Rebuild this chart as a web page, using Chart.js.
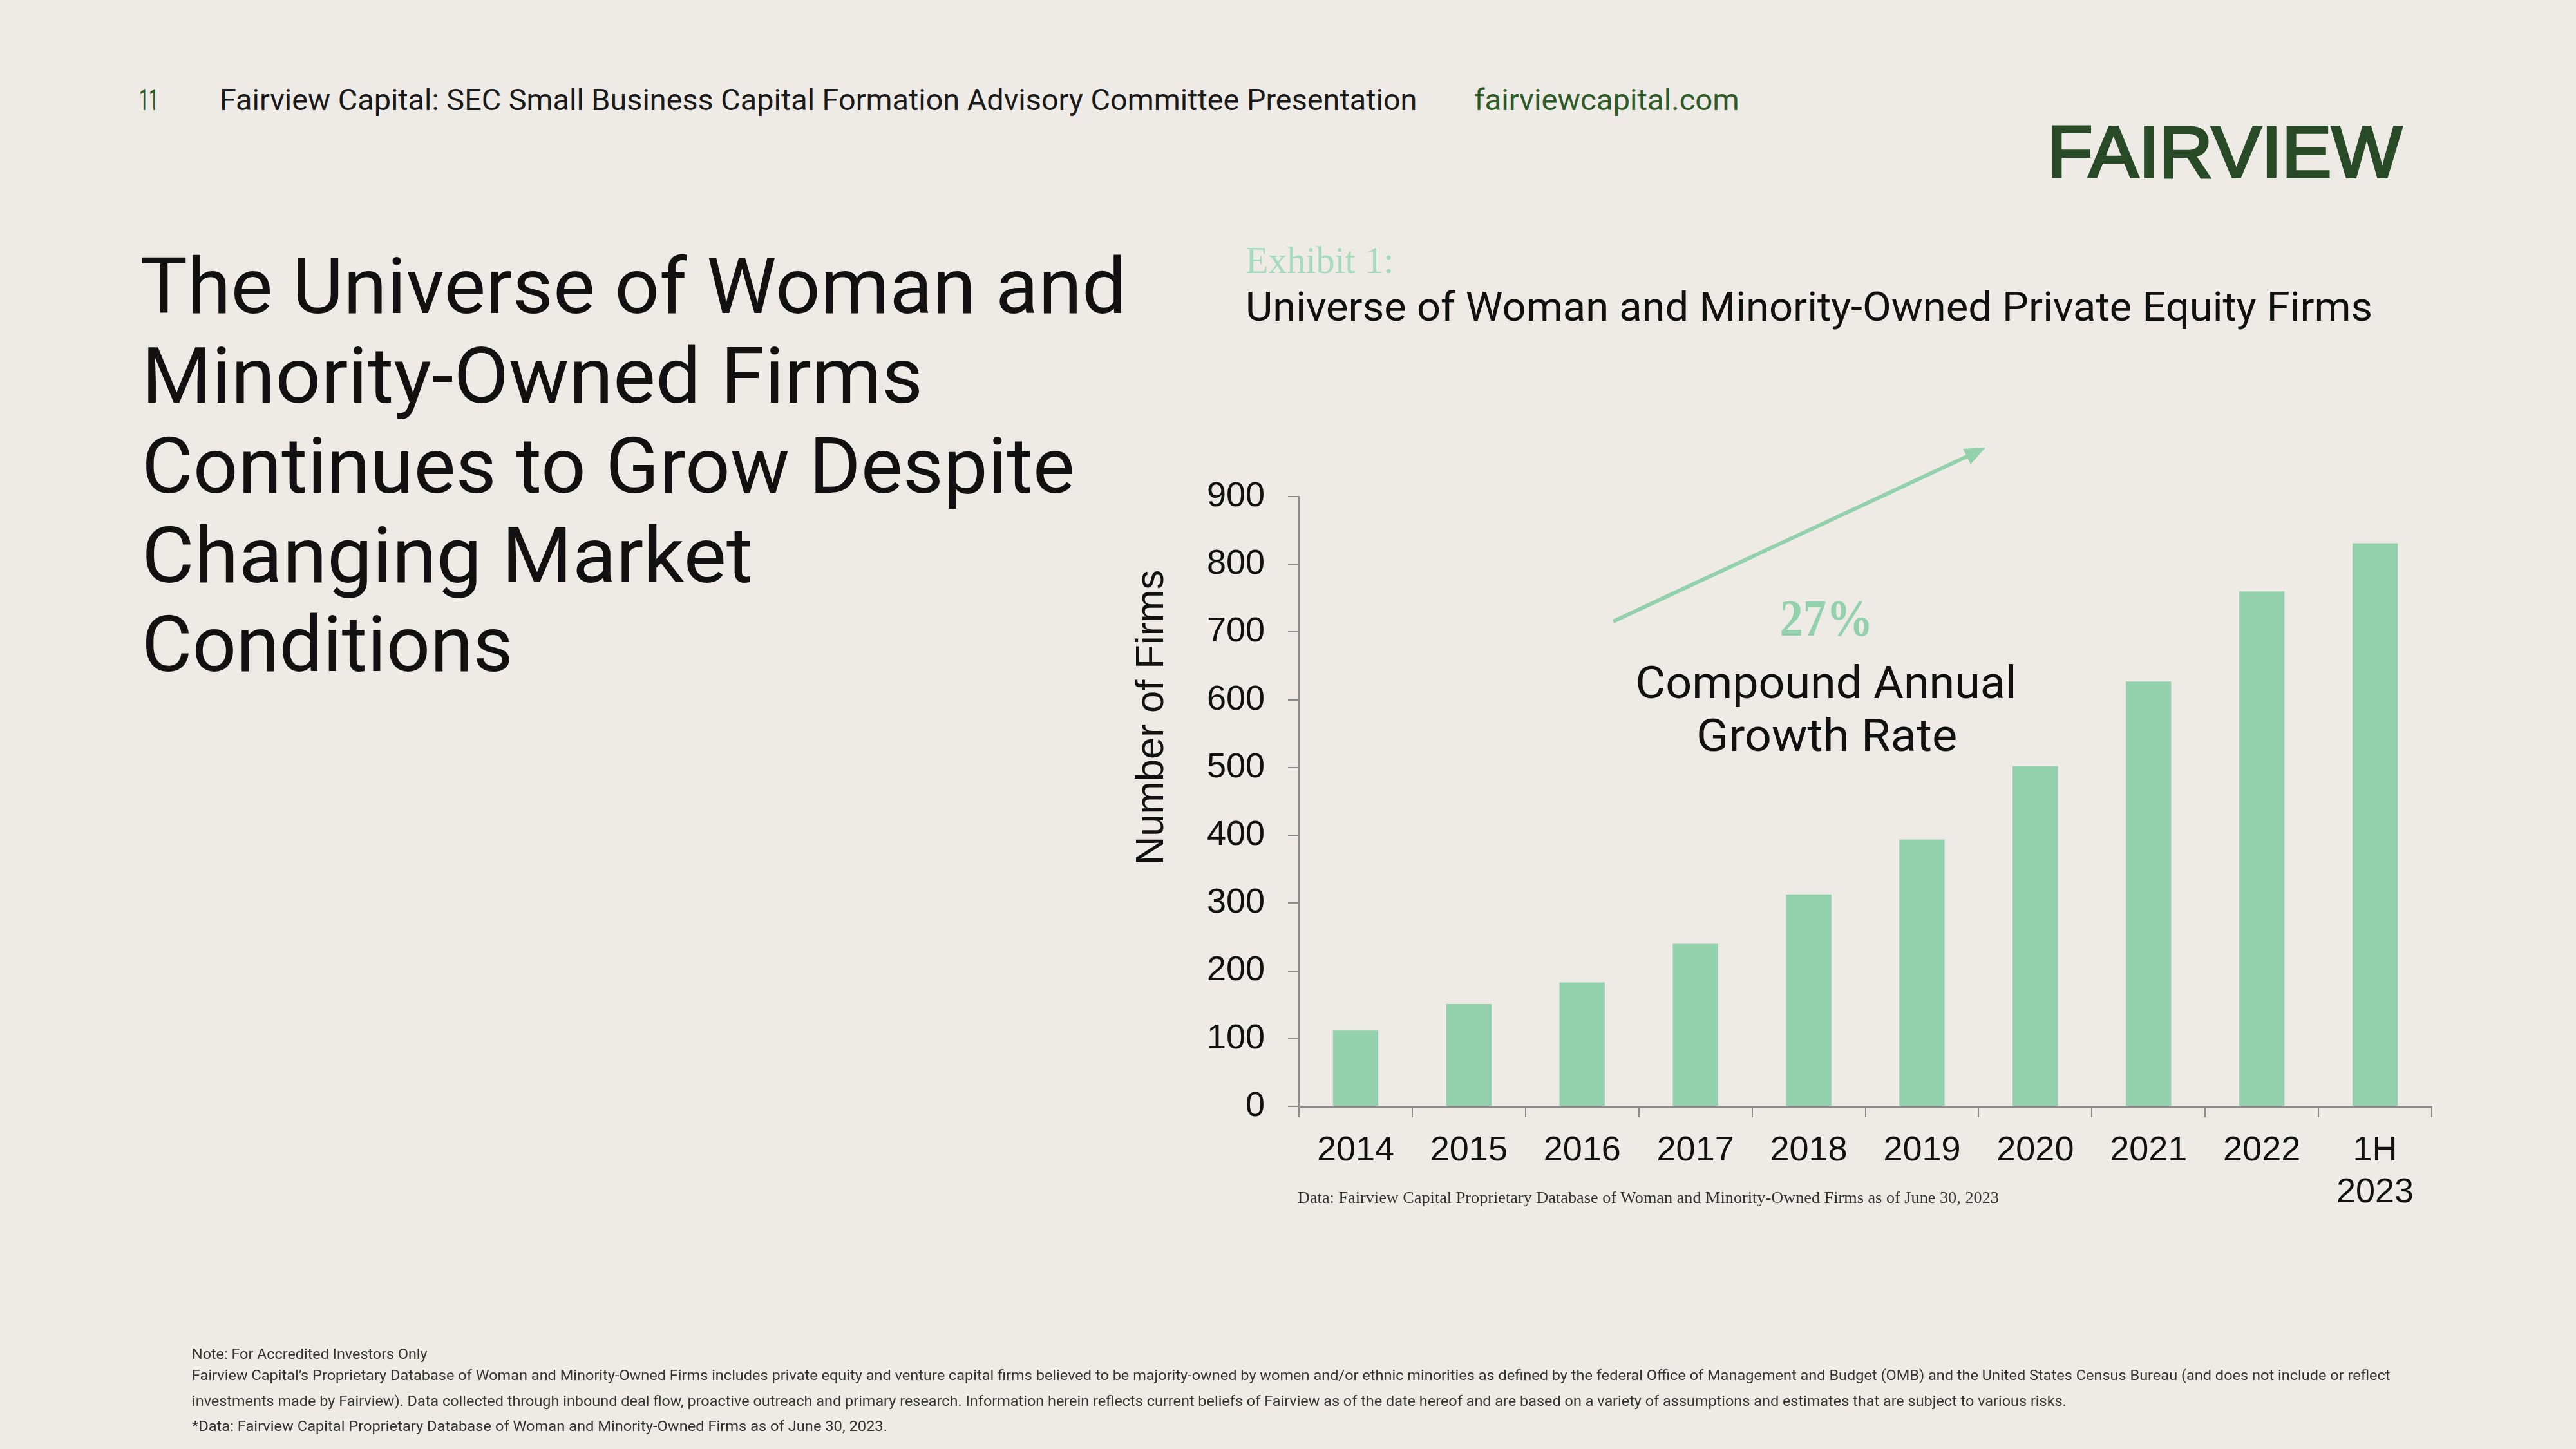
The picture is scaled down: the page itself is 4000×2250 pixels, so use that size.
<!DOCTYPE html>
<html>
<head>
<meta charset="utf-8">
<script src="https://cdn.jsdelivr.net/npm/chart.js@4.4.1/dist/chart.umd.min.js"></script>
<style>
  html, body { margin: 0; padding: 0; background: #eeebe6; }
  #page { position: relative; width: 4000px; height: 2250px; overflow: hidden; background: #eeebe6; }
  .t { position: absolute; white-space: nowrap; line-height: 1; font-family: Roboto, sans-serif; color: #111; }
  .serif { font-family: "Liberation Serif", serif; }
  #chartBox { position: absolute; left: 1700px; top: 700px; width: 2150px; height: 1250px; }
  #arrow { position: absolute; left: 0; top: 0; }
</style>
</head>
<body>
<div id="page">
  <!-- header -->
  <div class="t" data-x="216" data-b="171" data-w="30" style="font-size:46px;color:#2f5a2a">11</div>
  <div class="t" data-x="341" data-b="171" data-w="1859" style="font-size:46px;color:#1a1a1a">Fairview Capital: SEC Small Business Capital Formation Advisory Committee Presentation</div>
  <div class="t" data-x="2289" data-b="171" data-w="412" style="font-size:46px;color:#2d5a27">fairviewcapital.com</div>
  <div class="t" data-x="3179" data-b="275" data-w="551" style="font-size:114px;font-family:'Liberation Sans';color:#284a26;-webkit-text-stroke:4px #284a26">FAIRVIEW</div>

  <!-- slide title -->
  <div class="t" data-x="218" data-b="486" data-w="1531" style="font-size:120px">The Universe of Woman and</div>
  <div class="t" data-x="220" data-b="625" data-w="1213" style="font-size:120px">Minority-Owned Firms</div>
  <div class="t" data-x="220" data-b="765" data-w="1449" style="font-size:120px">Continues to Grow Despite</div>
  <div class="t" data-x="220" data-b="904" data-w="949" style="font-size:120px">Changing Market</div>
  <div class="t" data-x="220" data-b="1042" data-w="577" style="font-size:120px">Conditions</div>

  <!-- exhibit title -->
  <div class="t serif" data-x="1934" data-b="424" data-w="230" style="font-size:60px;color:#a6d9bd">Exhibit 1:</div>
  <div class="t" data-x="1934" data-b="498" data-w="1750" style="font-size:63px">Universe of Woman and Minority-Owned Private Equity Firms</div>

  <!-- chart -->
  <div id="chartBox"><canvas id="firmsChart" width="2150" height="1250"></canvas></div>
  <div id="yTitle" class="t" style="font-size:62px;font-family:'Liberation Sans'">Number of Firms</div>

  <svg id="arrow" width="4000" height="2250">
    <line x1="2505" y1="965" x2="3056" y2="708" stroke="#93d1ad" stroke-width="6"/>
    <polygon points="3083,695 3060,721 3048,697" fill="#93d1ad"/>
  </svg>
  <div class="t serif" data-x="2836" data-b="987" data-w="145" data-align="center" style="font-size:80px;font-weight:bold;color:#93d1ad">27%</div>
  <div class="t" data-x="2835" data-b="1084" data-w="592" data-align="center" style="font-size:70px">Compound Annual</div>
  <div class="t" data-x="2836" data-b="1166" data-w="405" data-align="center" style="font-size:70px">Growth Rate</div>

  <div class="t serif" data-x="2015" data-b="1868" data-w="1089" style="font-size:25px;color:#333">Data: Fairview Capital Proprietary Database of Woman and Minority-Owned Firms as of June 30, 2023</div>

  <!-- footnotes -->
  <div class="t" data-x="298" data-b="2110" data-w="366" style="font-size:22px;color:#333">Note: For Accredited Investors Only</div>
  <div class="t" data-x="298" data-b="2143" data-w="3413" style="font-size:22px;color:#333">Fairview Capital’s Proprietary Database of Woman and Minority-Owned Firms includes private equity and venture capital firms believed to be majority-owned by women and/or ethnic minorities as defined by the federal Office of Management and Budget (OMB) and the United States Census Bureau (and does not include or reflect</div>
  <div class="t" data-x="298" data-b="2183" data-w="2911" style="font-size:22px;color:#333">investments made by Fairview). Data collected through inbound deal flow, proactive outreach and primary research. Information herein reflects current beliefs of Fairview as of the date hereof and are based on a variety of assumptions and estimates that are subject to various risks.</div>
  <div class="t" data-x="298" data-b="2222" data-w="1080" style="font-size:22px;color:#333">*Data: Fairview Capital Proprietary Database of Woman and Minority-Owned Firms as of June 30, 2023.</div>
</div>

<script>
// chart data
const years = ['2014', '2015', '2016', '2017', '2018', '2019', '2020', '2021', '2022', ['1H', '2023']];
const firmCounts = [112, 151, 183, 240, 313, 394, 502, 627, 760, 831];
const yMin = 0;
const yMax = 900;
const yStep = 100;

const barGreen = '#93d1ad';
const axisGray = '#8c8c8c';

function baselineOffset(el) {
  const mark = document.createElement('span');
  mark.style.cssText = 'display:inline-block;width:0;height:0;vertical-align:baseline';
  el.appendChild(mark);
  return mark.offsetTop;
}

// place text lines by baseline and stretch them to the measured widths
document.querySelectorAll('.t[data-b]').forEach(function (el) {
  const baseOff = baselineOffset(el);
  const w = el.offsetWidth;
  const target = parseFloat(el.dataset.w);
  const x = parseFloat(el.dataset.x);
  el.style.top = (parseFloat(el.dataset.b) - baseOff) + 'px';
  if (el.dataset.align === 'center') {
    el.style.left = (x - w / 2) + 'px';
    el.style.transformOrigin = 'center top';
  } else {
    el.style.left = x + 'px';
    el.style.transformOrigin = 'left top';
  }
  el.style.transform = 'scaleX(' + (target / w) + ')';
});

// rotated y axis title: baseline at x=1806, centred on y=1114
(function () {
  const el = document.getElementById('yTitle');
  const baseOff = baselineOffset(el);
  const w = el.offsetWidth, h = el.offsetHeight;
  const cx = 1806 - (baseOff - h / 2);
  const cy = 1114;
  el.style.left = (cx - w / 2) + 'px';
  el.style.top = (cy - h / 2) + 'px';
  el.style.transformOrigin = 'center center';
  el.style.transform = 'rotate(-90deg) scaleX(' + (459 / w) + ')';
})();

const ctx = document.getElementById('firmsChart');

new Chart(ctx, {
  type: 'bar',
  data: {
    labels: years,
    datasets: [{
      label: 'Number of Firms',
      data: firmCounts,
      backgroundColor: barGreen,
      borderWidth: 0,
      barPercentage: 0.4,
      categoryPercentage: 1
    }]
  },
  options: {
    responsive: false,
    animation: false,
    devicePixelRatio: 1,
    layout: {
      padding: { left: 0, top: 71, right: 74, bottom: 0 }
    },
    plugins: {
      legend: { display: false },
      tooltip: { enabled: false }
    },
    scales: {
      x: {
        afterFit: function (scale) { scale.height = 232; },
        grid: {
          offset: true,
          drawOnChartArea: false,
          drawTicks: true,
          tickLength: 17,
          color: axisGray,
          lineWidth: 2
        },
        border: { color: axisGray, width: 3 },
        ticks: {
          color: '#111',
          padding: 20,
          maxRotation: 0,
          autoSkip: false,
          font: { family: 'Liberation Sans', size: 54, lineHeight: 1.2 }
        }
      },
      y: {
        min: yMin,
        max: yMax,
        afterFit: function (scale) { scale.width = 317; },
        grid: {
          drawOnChartArea: false,
          drawTicks: true,
          tickLength: 17,
          color: axisGray,
          lineWidth: 2
        },
        border: { color: axisGray, width: 3 },
        ticks: {
          stepSize: yStep,
          color: '#111',
          padding: 36,
          font: { family: 'Liberation Sans', size: 54 }
        }
      }
    }
  }
});
</script>
</body>
</html>
